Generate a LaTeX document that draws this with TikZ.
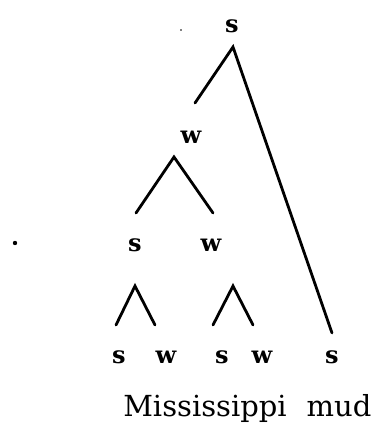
\documentclass[tikz,border=0pt]{standalone}
\usepackage{fontspec}
\setmainfont{DejaVu Serif}
\usetikzlibrary{positioning}

\tikzset{
  sw/.style={inner sep=0pt, font=\fontsize{24}{24}\selectfont\bfseries},
  word/.style={inner sep=0pt, anchor=base, font=\fontsize{29}{29}\selectfont},
  branch/.style={line width=2.8pt, line cap=round},
}

\begin{document}
\begin{tikzpicture}[x=1pt,y=-1pt]
  \useasboundingbox (0,0) rectangle (372,423);

  % Labels
  \node[sw] (root) at (232,26) {s};
  \node[sw] (wA) at (191,137) {w};
  \node[sw] (sB) at (135,245) {s};
  \node[sw] (wB) at (211,245) {w};
  \node[sw] (sC1) at (119,357) {s};
  \node[sw] (wC1) at (166,357) {w};
  \node[sw] (sC2) at (222,357) {s};
  \node[sw] (wC2) at (262,357) {w};
  \node[sw] (sC3) at (332,357) {s};

  % Words
  \node[word] (miss) at (205,416) {Mississippi};
  \node[word] (mud) at (339,416) {mud};

  % Branch points
  \coordinate (root-top) at (233,47);
  \coordinate (root-l) at (195,103);
  \coordinate (root-r) at (332,333);
  \coordinate (wA-top) at (174,157);
  \coordinate (wA-l) at (136,213);
  \coordinate (wA-r) at (213,213);
  \coordinate (sB-top) at (135,286);
  \coordinate (sB-l) at (116,325);
  \coordinate (sB-r) at (155,325);
  \coordinate (wB-top) at (233,286);
  \coordinate (wB-l) at (213,325);
  \coordinate (wB-r) at (253,325);

  % Branches
  \draw[branch] (root-l) -- (root-top) -- (root-r);
  \draw[branch] (wA-l) -- (wA-top) -- (wA-r);
  \draw[branch] (sB-l) -- (sB-top) -- (sB-r);
  \draw[branch] (wB-l) -- (wB-top) -- (wB-r);

  % Specks
  \fill (181,30) circle (0.8pt);
  \fill (15,243) circle (2.2pt);
\end{tikzpicture}
\end{document}
